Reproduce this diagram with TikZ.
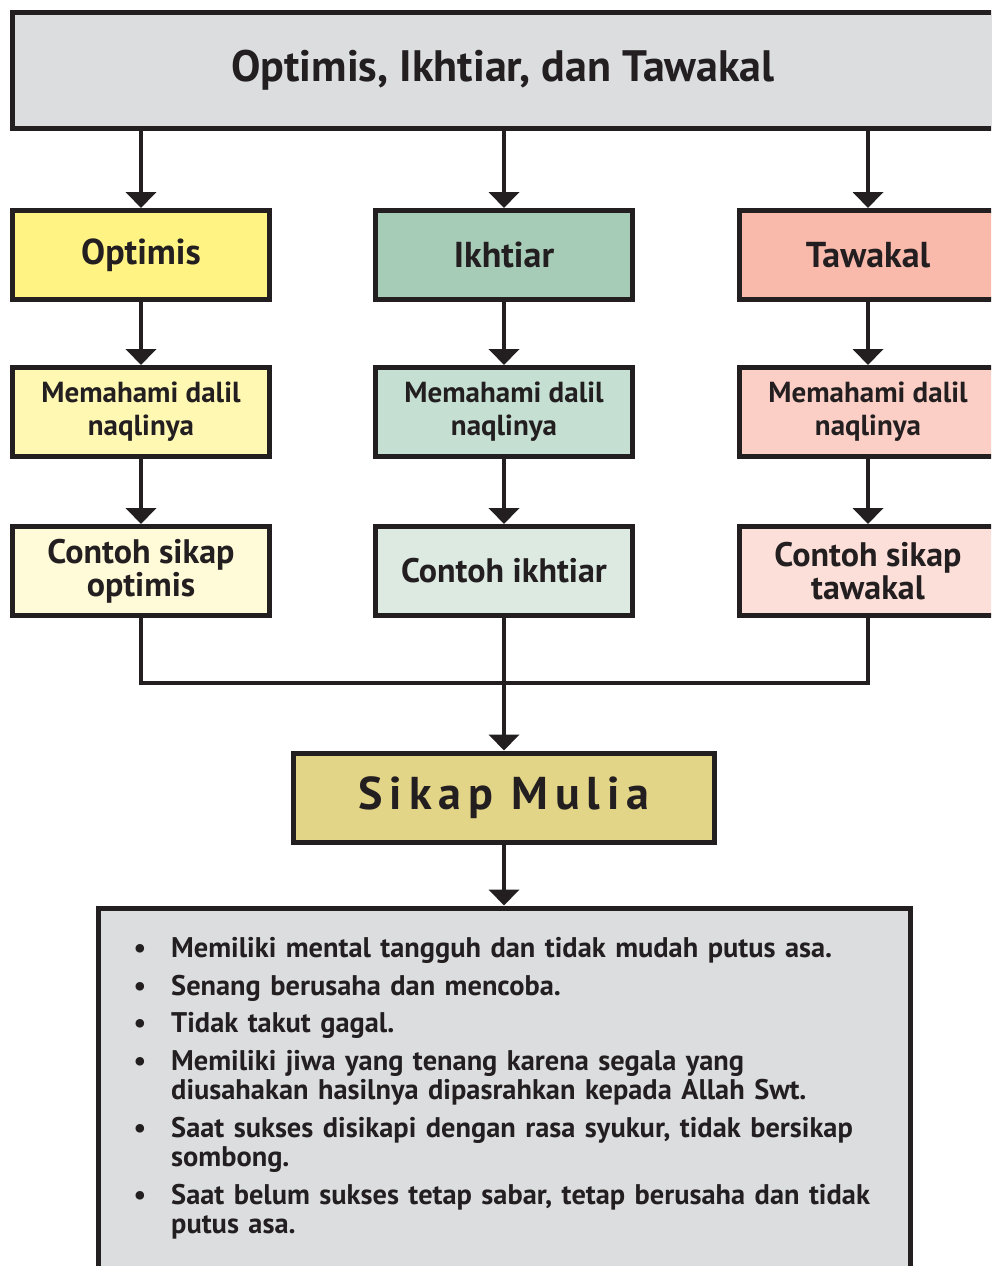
\documentclass[tikz,border=0pt]{standalone}
\usepackage{fontspec}
\setmainfont{PT Sans}
\usepackage{enumitem}
\usetikzlibrary{arrows.meta}
\definecolor{ink}{HTML}{231F20}
\definecolor{greybox}{HTML}{DCDDDF}
\definecolor{yellowA}{HTML}{FFF383}
\definecolor{yellowB}{HTML}{FFF8B3}
\definecolor{yellowC}{HTML}{FFFAD7}
\definecolor{greenA}{HTML}{A6CBB7}
\definecolor{greenB}{HTML}{C5DFD2}
\definecolor{greenC}{HTML}{DDEAE2}
\definecolor{pinkA}{HTML}{F9B9AB}
\definecolor{pinkB}{HTML}{FBCFC5}
\definecolor{pinkC}{HTML}{FCDFD8}
\definecolor{gold}{HTML}{E3D587}
\tikzset{box/.style={draw=ink, line width=5pt, inner sep=0pt, minimum width=257pt, minimum height=89pt, align=center, text=ink, font=\bfseries\fontsize{36}{36}\selectfont}}
\tikzset{small/.style={font=\bfseries\fontsize{29}{33}\selectfont}, example/.style={font=\bfseries\fontsize{34}{33}\selectfont}, arr/.style={ink, line width=4pt, -{Triangle[width=30pt,length=16pt]}}, link/.style={ink, line width=4pt}}

\begin{document}
\begin{tikzpicture}[x=1pt,y=-1pt]
   \clip (0,0) rectangle (991,1266);
   \node[box, fill=greybox, minimum width=981pt, minimum height=116pt, font=\bfseries\fontsize{44}{44}\selectfont] (top) at (503,70.5) {Optimis, Ikhtiar, dan Tawakal};
   % first row
   \node[box, fill=yellowA] (opt) at (141,255) {Optimis};
   \node[box, fill=greenA]  (ikh) at (504,255) {Ikhtiar};
   \node[box, fill=pinkA]   (taw) at (868,255) {Tawakal};
   % second row
   \node[box, small, fill=yellowB] (optdalil) at (141,412) {Memahami dalil\\naqlinya};
   \node[box, small, fill=greenB]  (ikhdalil) at (504,412) {Memahami dalil\\naqlinya};
   \node[box, small, fill=pinkB]   (tawdalil) at (868,412) {Memahami dalil\\naqlinya};
   % third row
   \node[box, example, fill=yellowC] (optsikap) at (141,571) {Contoh sikap\\optimis};
   \node[box, example, fill=greenC]  (ikhsikap) at (504,571) {Contoh ikhtiar};
   \node[box, example, fill=pinkC]   (tawsikap) at (868,571) {Contoh sikap\\tawakal};
   \node[box, fill=gold, minimum width=421pt, font=\bfseries\fontsize{46}{46}\selectfont\addfontfeature{LetterSpace=15}] (mulia) at (504,797.5) {Sikap Mulia};
   \node[box, fill=greybox, minimum width=812pt, minimum height=400pt] (list) at (504,1108) {};
   \node[anchor=north west, inner sep=0pt, text width=780pt, text=ink, font=\bfseries\fontsize{28.4}{29.5}\selectfont] (items) at (128,928) {%
     \begin{itemize}[leftmargin=43pt, labelsep=25pt, itemsep=8pt, topsep=0pt, parsep=0pt, label={\fontsize{28}{28}\selectfont\textbullet}]
       \item Memiliki mental tangguh dan tidak mudah putus asa.
       \item Senang berusaha dan mencoba.
       \item Tidak takut gagal.
       \item Memiliki jiwa yang tenang karena segala yang\newline diusahakan hasilnya dipasrahkan kepada Allah Swt.
       \item Saat sukses disikapi dengan rasa syukur, tidak bersikap\newline sombong.
       \item Saat belum sukses tetap sabar, tetap berusaha dan tidak\newline putus asa.
     \end{itemize}};
   \coordinate (join) at (504,683);
   \draw[arr] (top.south -| opt) -- (opt.north);
   \draw[arr] (top.south -| ikh) -- (ikh.north);
   \draw[arr] (top.south -| taw) -- (taw.north);
   \draw[arr] (opt.south) -- (optdalil.north);
   \draw[arr] (ikh.south) -- (ikhdalil.north);
   \draw[arr] (taw.south) -- (tawdalil.north);
   \draw[arr] (optdalil.south) -- (optsikap.north);
   \draw[arr] (ikhdalil.south) -- (ikhsikap.north);
   \draw[arr] (tawdalil.south) -- (tawsikap.north);
   \draw[link] (optsikap.south) |- (join) -| (tawsikap.south);
   \draw[arr] (ikhsikap.south) -- (mulia.north);
   \draw[arr] (mulia.south) -- (list.north);
\end{tikzpicture}
\end{document}
